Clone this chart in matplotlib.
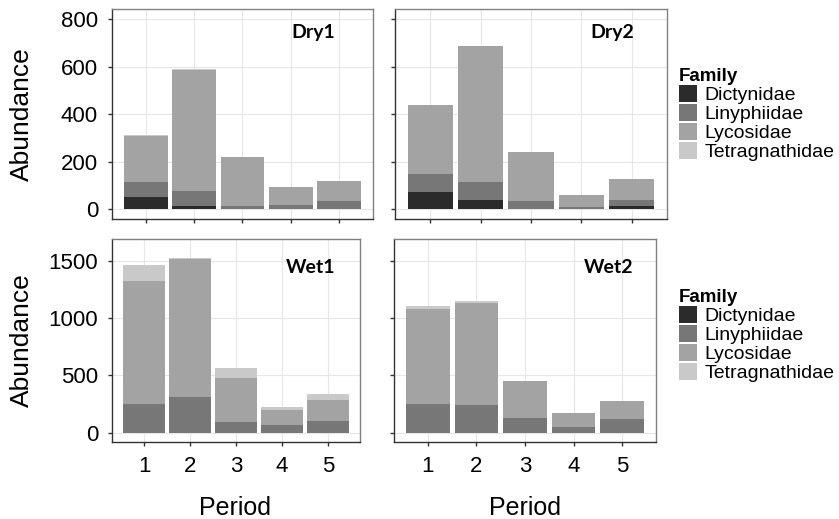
import numpy as np
import matplotlib
matplotlib.use("Agg")
import matplotlib.pyplot as plt
from matplotlib.patches import Patch

plt.rcParams['font.family'] = ['Liberation Sans', 'DejaVu Sans']

periods = [1, 2, 3, 4, 5]
families = ["Dictynidae", "Linyphiidae", "Lycosidae", "Tetragnathidae"]
colors = ["#2b2b2b", "#777777", "#a3a3a3", "#c9c9c9"]

# values, stacked bottom to top
dry1_dict = [53, 14, 3, 4, 4]
dry1_liny = [64, 64, 11, 14, 31]
dry1_lyco = [193, 507, 207, 76, 84]
dry1_tetra = [4, 6, 1, 0, 0]

dry2_dict = [75, 40, 1, 2, 14]
dry2_liny = [76, 75, 33, 9, 25]
dry2_lyco = [286, 571, 208, 48, 87]
dry2_tetra = [0, 0, 0, 0, 0]

wet1_dict = [0, 0, 0, 0, 0]
wet1_liny = [248, 312, 96, 64, 102]
wet1_lyco = [1080, 1208, 380, 132, 187]
wet1_tetra = [140, 3, 93, 26, 47]

wet2_dict = [0, 0, 0, 0, 0]
wet2_liny = [248, 239, 128, 47, 120]
wet2_lyco = [829, 893, 321, 125, 157]
wet2_tetra = [26, 21, 0, 0, 0]

dry_ticks = [0, 200, 400, 600, 800]
wet_ticks = [0, 500, 1000, 1500]

panels = [
    ("Dry1", [dry1_dict, dry1_liny, dry1_lyco, dry1_tetra], [0.1335, 0.578, 0.311, 0.4046], dry_ticks, (-40, 842), True, (0.77, 0.886)),
    ("Dry2", [dry2_dict, dry2_liny, dry2_lyco, dry2_tetra], [0.4708, 0.578, 0.3242, 0.4046], dry_ticks, (-40, 842), False, (0.80, 0.886)),
    ("Wet1", [wet1_dict, wet1_liny, wet1_lyco, wet1_tetra], [0.1335, 0.1478, 0.2956, 0.3911], wet_ticks, (-85, 1690), True, (0.80, 0.86)),
    ("Wet2", [wet2_dict, wet2_liny, wet2_lyco, wet2_tetra], [0.4696, 0.1478, 0.3123, 0.3911], wet_ticks, (-85, 1690), False, (0.82, 0.86)),
]

fig = plt.figure(figsize=(8.39, 5.19), dpi=100)

for name, series, pos, yt, ylim, show_y, tpos in panels:
    ax = fig.add_axes(pos)
    bottom = np.zeros(len(periods))
    for vals, c in zip(series, colors):
        ax.bar(periods, vals, bottom=bottom, width=0.9, color=c, zorder=2)
        bottom += np.array(vals)
    ax.set_xlim(0.3, 5.7)
    ax.set_ylim(*ylim)
    ax.set_yticks(yt)
    ax.set_xticks(periods)
    ax.grid(True, color="#e6e6e6", lw=0.8, zorder=0)
    for s in ax.spines.values():
        s.set_color("#808080")
        s.set_linewidth(1.0)
    ax.spines['left'].set_color("#333333")
    ax.spines['bottom'].set_color("#333333")
    ax.tick_params(length=3, width=1, color="#333333", labelsize=16, pad=7)
    if not show_y:
        ax.tick_params(axis='y', labelleft=False)
    if name.startswith("Dry"):
        ax.tick_params(axis='x', labelbottom=False)
    ax.text(tpos[0], tpos[1], name, transform=ax.transAxes, ha='center', va='center',
            fontsize=14, fontweight='bold', family=['Lato', 'DejaVu Sans'])

fig.text(22 / 839, 0.78, "Abundance", rotation=90, ha='center', va='center', fontsize=19)
fig.text(22 / 839, 0.344, "Abundance", rotation=90, ha='center', va='center', fontsize=19)
fig.text(235 / 839, 1 - 508 / 519, "Period", ha='center', va='center', fontsize=18)
fig.text(525 / 839, 1 - 508 / 519, "Period", ha='center', va='center', fontsize=18)

handles = [Patch(facecolor=c, edgecolor='none') for c in colors]
for ytop in [68, 289]:
    leg = fig.legend(handles, families, title="Family", loc='upper left',
                     bbox_to_anchor=(679 / 839, 1 - ytop / 519), frameon=False,
                     fontsize=14, title_fontproperties={'weight': 'bold', 'size': 13.5},
                     handlelength=0.95, handleheight=0.95, labelspacing=0.0,
                     handletextpad=0.35, borderpad=0, borderaxespad=0, alignment='left')

fig.savefig("out.png", dpi=100)
